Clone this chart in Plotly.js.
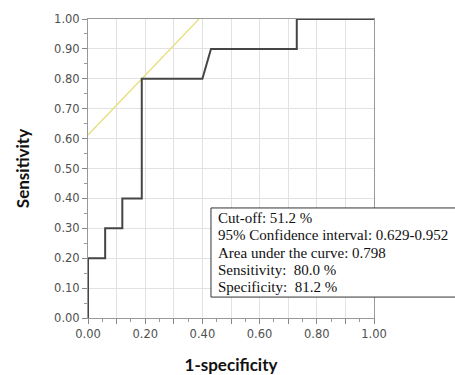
<!DOCTYPE html>
<html>
<head>
<meta charset="utf-8">
<script src="https://cdn.plot.ly/plotly-3.0.1.min.js"></script>
<style>html,body{margin:0;padding:0;background:#fff;}#chart{width:455px;height:375px;}</style>
</head>
<body>
<div id="chart"></div>
<script>
// ROC curve (1-specificity, sensitivity)
const rocX = [0.00, 0.00, 0.06, 0.06, 0.12, 0.12, 0.188, 0.188, 0.40, 0.43, 0.73, 0.73, 1.00];
const rocY = [0.00, 0.20, 0.20, 0.30, 0.30, 0.40, 0.40, 0.80, 0.80, 0.90, 0.90, 1.00, 1.00];
// Tangent line at cut-off
const tanX = [0.00, 0.388];
const tanY = [0.612, 1.00];
// Tick labels
const xTickVals = [0, 0.1, 0.2, 0.3, 0.4, 0.5, 0.6, 0.7, 0.8, 0.9, 1.0];
const xTickText = ['0.00', '', '0.20', '', '0.40', '', '0.60', '', '0.80', '', '1.00'];
const yTickVals = [0, 0.1, 0.2, 0.3, 0.4, 0.5, 0.6, 0.7, 0.8, 0.9, 1.0];
const yTickText = ['0.00', '0.10', '0.20', '0.30', '0.40', '0.50', '0.60', '0.70', '0.80', '0.90', '1.00'];
const infoLines = [
  'Cut-off: 51.2 %',
  '95% Confidence interval: 0.629-0.952',
  'Area under the curve: 0.798',
  'Sensitivity:  80.0 %',
  'Specificity:  81.2 %'
];

const traces = [
  {x: tanX, y: tanY, mode: 'lines', line: {color: '#e6df7c', width: 1.3}, hoverinfo: 'skip'},
  {x: rocX, y: rocY, mode: 'lines', line: {color: '#454545', width: 2}, hoverinfo: 'skip', cliponaxis: false}
];

const tickFont = {family: 'DejaVu Sans', size: 11.5, color: '#505050'};
const titleFont = {family: 'Lato', size: 17, color: '#111', weight: 'bold'};

// info box layout (paper coordinates)
const boxX0 = 0.430, boxX1 = 1.29, boxY0 = 0.070, boxY1 = 0.368;
const lineY0 = 0.334, lineStep = 0.0577, textX = 0.449;

const annotations = infoLines.map((t, i) => ({
  xref: 'paper', yref: 'paper',
  x: textX, y: lineY0 - i * lineStep, xanchor: 'left', yanchor: 'middle',
  text: t, align: 'left', showarrow: false,
  font: {family: 'Liberation Serif', size: 15, color: '#111'}
}));

const layout = {
  width: 455, height: 375,
  margin: {l: 88, r: 81, t: 19, b: 57},
  paper_bgcolor: '#fff', plot_bgcolor: '#fff',
  showlegend: false,
  font: {family: 'DejaVu Sans'},
  xaxis: {
    range: [0, 1], autorange: false, fixedrange: true,
    tickvals: xTickVals, ticktext: xTickText,
    ticks: 'outside', ticklen: 5, tickcolor: '#888', tickwidth: 1,
    tickfont: tickFont,
    showgrid: true, gridcolor: '#e2e2e2', gridwidth: 1,
    zeroline: false,
    showline: true, linecolor: '#999', linewidth: 1, mirror: true,
    minor: {dtick: 0.05, ticks: 'outside', ticklen: 3, tickcolor: '#999', showgrid: false},
    title: {text: '1-specificity', font: titleFont, standoff: 22},
    automargin: false
  },
  yaxis: {
    range: [0, 1], autorange: false, fixedrange: true,
    tickvals: yTickVals, ticktext: yTickText,
    ticks: 'outside', ticklen: 5, tickcolor: '#888', tickwidth: 1,
    tickfont: tickFont,
    showgrid: true, gridcolor: '#e2e2e2', gridwidth: 1,
    zeroline: false,
    showline: true, linecolor: '#999', linewidth: 1, mirror: true,
    minor: {dtick: 0.05, ticks: 'outside', ticklen: 3, tickcolor: '#999', showgrid: false},
    title: {text: 'Sensitivity', font: titleFont, standoff: 20},
    automargin: false
  },
  shapes: [{
    type: 'rect', xref: 'paper', yref: 'paper',
    x0: boxX0, x1: boxX1, y0: boxY0, y1: boxY1,
    fillcolor: '#fff', line: {color: '#333', width: 1}, layer: 'above'
  }],
  annotations: annotations
};

Plotly.newPlot('chart', traces, layout, {displayModeBar: false, staticPlot: true});
</script>
</body>
</html>
